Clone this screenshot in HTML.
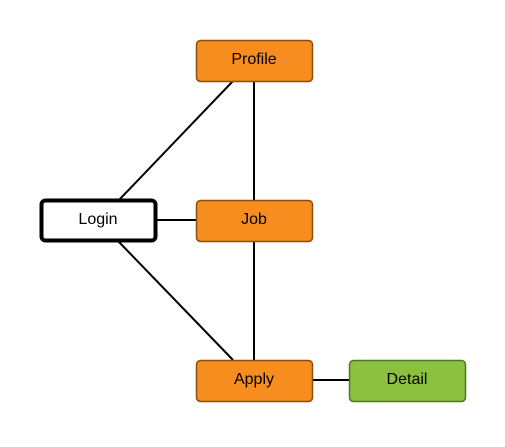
<!DOCTYPE html>
<html><head><style>body{margin:0;background:#fff}</style></head><body>
<svg width="505" height="442" xmlns="http://www.w3.org/2000/svg" font-family="Liberation Sans, sans-serif" font-size="16">
<g stroke="#000" stroke-width="2">
<line x1="233" y1="81" x2="119" y2="200"/>
<line x1="254" y1="81" x2="254" y2="200"/>
<line x1="157" y1="220" x2="196" y2="220"/>
<line x1="119" y1="242" x2="233" y2="360"/>
<line x1="254" y1="242" x2="254" y2="360"/>
<line x1="312" y1="380" x2="349" y2="380"/>
</g>
<rect x="196.5" y="40.5" width="116" height="41" rx="4" fill="#f68d1e" stroke="#8a4d12" stroke-width="1.5"/>
<rect x="41.5" y="200.5" width="114" height="40" rx="4" fill="#fff" stroke="#000" stroke-width="4"/>
<rect x="196.5" y="200.5" width="116" height="41" rx="4" fill="#f68d1e" stroke="#8a4d12" stroke-width="1.5"/>
<rect x="196.5" y="360.5" width="116" height="41" rx="4" fill="#f68d1e" stroke="#8a4d12" stroke-width="1.5"/>
<rect x="349.5" y="360.5" width="116" height="41" rx="4" fill="#8bc13f" stroke="#4f7520" stroke-width="1.5"/>
<g text-anchor="middle">
<text x="254" y="64">Profile</text>
<text x="98" y="224">Login</text>
<text x="254" y="224">Job</text>
<text x="254" y="384">Apply</text>
<text x="407" y="384">Detail</text>
</g>
</svg>
</body></html>
